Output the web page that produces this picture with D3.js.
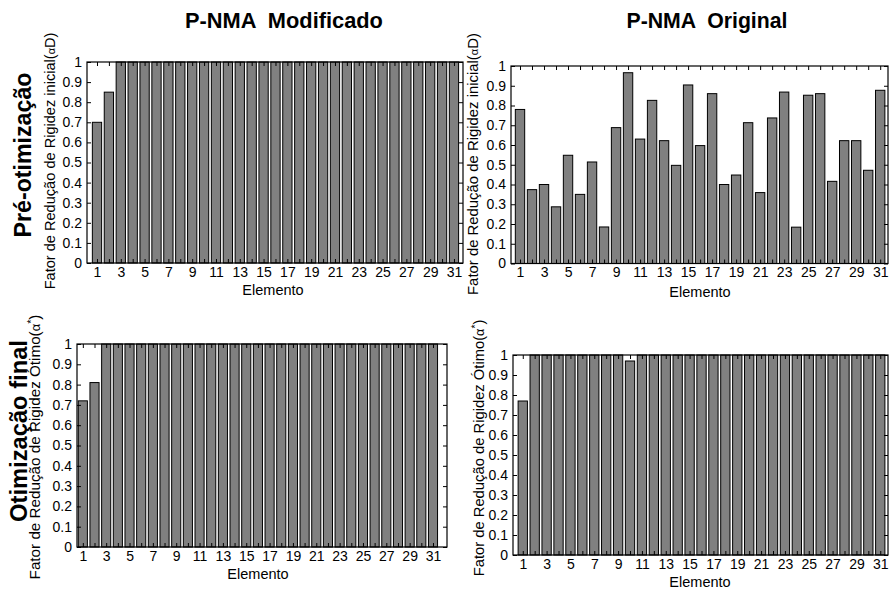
<!DOCTYPE html>
<html>
<head>
<meta charset="utf-8">
<script src="https://cdn.jsdelivr.net/npm/d3@7/dist/d3.min.js"></script>
<style>
  body { margin: 0; background: #fff; }
  svg text { font-family: "Liberation Sans", Arial, sans-serif; fill: #000; }
</style>
</head>
<body>
<svg id="chart" width="889" height="591"></svg>
<script>
// ── Data ───────────────────────────────────────────────────────────────────
const elementos = [1, 2, 3, 4, 5, 6, 7, 8, 9, 10, 11, 12, 13, 14, 15, 16,
  17, 18, 19, 20, 21, 22, 23, 24, 25, 26, 27, 28, 29, 30, 31];
const xLabels = [1, 3, 5, 7, 9, 11, 13, 15, 17, 19, 21, 23, 25, 27, 29, 31];
const yTicks = [0, 0.1, 0.2, 0.3, 0.4, 0.5, 0.6, 0.7, 0.8, 0.9, 1];

// P-NMA Modificado, pré-otimização
const modInicial = [0.70, 0.85, 1, 1, 1, 1, 1, 1, 1, 1, 1, 1, 1, 1, 1, 1,
  1, 1, 1, 1, 1, 1, 1, 1, 1, 1, 1, 1, 1, 1, 1];
// P-NMA Original, pré-otimização
const origInicial = [0.78, 0.374, 0.40, 0.287, 0.548, 0.35, 0.514, 0.185, 0.688, 0.966,
  0.63, 0.826, 0.622, 0.497, 0.904, 0.597, 0.86, 0.40, 0.448, 0.713,
  0.359, 0.737, 0.868, 0.184, 0.852, 0.86, 0.416, 0.622, 0.622, 0.472, 0.877];
// P-NMA Modificado, otimização final
const modOtimo = [0.72, 0.81, 1, 1, 1, 1, 1, 1, 1, 1, 1, 1, 1, 1, 1, 1,
  1, 1, 1, 1, 1, 1, 1, 1, 1, 1, 1, 1, 1, 1, 1];
// P-NMA Original, otimização final
const origOtimo = [0.77, 1, 1, 1, 1, 1, 1, 1, 1, 0.97, 1, 1, 1, 1, 1, 1,
  1, 1, 1, 1, 1, 1, 1, 1, 1, 1, 1, 1, 1, 1, 1];

// ── Layout ─────────────────────────────────────────────────────────────────
const panels = [
  { values: modInicial,  box: [87, 463, 62, 263],  xDom: [0.16, 31.76], kind: 'inicial',
    ylab: { x: 55, y: 161, len: 257 }, elem: { x: 273, y: 295 } },
  { values: origInicial, box: [511, 888, 66, 263.5], xDom: [0.25, 31.65], kind: 'inicial',
    ylab: { x: 478, y: 164, len: 262 }, elem: { x: 700, y: 297 } },
  { values: modOtimo,    box: [77, 447, 344, 547], xDom: [0.5, 32.2],  kind: 'otimo',
    ylab: { x: 40, y: 447, len: 265 }, elem: { x: 258, y: 579 } },
  { values: origOtimo,   box: [513, 888, 355, 555], xDom: [0.18, 31.65], kind: 'otimo',
    ylab: { x: 484, y: 448, len: 257 }, elem: { x: 700, y: 587 } },
];

const svg = d3.select('#chart');

// scale the font so the text spans a given length
function fit(text, len, size) {
  text.attr('font-size', size);
  const w = text.node().getComputedTextLength();
  text.attr('font-size', (size * len / w).toFixed(2));
  return text;
}

function drawPanel(p) {
  const [x0, x1, y0, y1] = p.box;
  const x = d3.scaleLinear().domain(p.xDom).range([x0, x1]);
  const y = d3.scaleLinear().domain([0, 1]).range([y1, y0]);
  const step = x(2) - x(1);
  const g = svg.append('g');

  g.selectAll('rect.bar')
    .data(elementos).join('rect')
    .attr('class', 'bar')
    .attr('x', d => x(d) - step * 0.39)
    .attr('width', step * 0.78)
    .attr('y', (d, i) => y(p.values[i]))
    .attr('height', (d, i) => y(0) - y(p.values[i]))
    .attr('fill', '#808080')
    .attr('stroke', '#000')
    .attr('stroke-width', 1);

  // MATLAB style: ticks inward on all four sides
  const axB = g.append('g').attr('transform', `translate(0,${y1})`)
    .call(d3.axisBottom(x).tickValues(elementos).tickSize(-4).tickPadding(4)
      .tickFormat(d => xLabels.includes(d) ? d : ''));
  const axT = g.append('g').attr('transform', `translate(0,${y0})`)
    .call(d3.axisTop(x).tickValues(elementos).tickSize(-4).tickFormat(''));
  const axL = g.append('g').attr('transform', `translate(${x0},0)`)
    .call(d3.axisLeft(y).tickValues(yTicks).tickSize(-4).tickPadding(5)
      .tickFormat(d => d === 0 || d === 1 ? d3.format('d')(d) : d3.format('.1f')(d)));
  const axR = g.append('g').attr('transform', `translate(${x1},0)`)
    .call(d3.axisRight(y).tickValues(yTicks).tickSize(-4).tickFormat(''));

  [axB, axT, axL, axR].forEach(a => {
    a.select('.domain').remove();
    a.selectAll('line').attr('stroke', '#000');
    a.selectAll('text').attr('font-size', 14).attr('font-family', null).attr('fill', '#111');
  });

  g.append('rect')
    .attr('x', x0).attr('y', y0).attr('width', x1 - x0).attr('height', y1 - y0)
    .attr('fill', 'none').attr('stroke', '#000').attr('stroke-width', 1.2);

  // y label
  const t = svg.append('text')
    .attr('transform', `translate(${p.ylab.x},${p.ylab.y}) rotate(-90)`)
    .attr('text-anchor', 'middle').attr('fill', '#111');
  if (p.kind === 'inicial') {
    t.append('tspan').text('Fator de Redução de Rigidez inicial(');
    t.append('tspan').attr('font-size', '0.75em').text('α');
    t.append('tspan').text('D)');
  } else {
    t.append('tspan').text('Fator de Redução de Rigidez Ótimo(');
    t.append('tspan').attr('font-size', '0.85em').text('α');
    t.append('tspan').attr('font-size', '0.7em').attr('dy', '-0.45em').text('*');
    t.append('tspan').attr('dy', '0.32em').text(')');
  }
  fit(t, p.ylab.len, 13);

  svg.append('text')
    .attr('x', p.elem.x).attr('y', p.elem.y)
    .attr('text-anchor', 'middle').attr('font-size', 14.5).attr('fill', '#111')
    .text('Elemento');
}

panels.forEach(drawPanel);

// column titles
fit(svg.append('text').attr('x', 284).attr('y', 28).attr('text-anchor', 'middle')
  .attr('font-weight', 'bold').attr('xml:space', 'preserve').text('P-NMA  Modificado'), 198, 18);
fit(svg.append('text').attr('x', 707).attr('y', 28).attr('text-anchor', 'middle')
  .attr('font-weight', 'bold').attr('xml:space', 'preserve').text('P-NMA  Original'), 161, 18);

// row titles
fit(svg.append('text').attr('transform', 'translate(31,155) rotate(-90)').attr('text-anchor', 'middle')
  .attr('font-weight', 'bold').text('Pré-otimização'), 165, 22);
fit(svg.append('text').attr('transform', 'translate(27,431) rotate(-90)').attr('text-anchor', 'middle')
  .attr('font-weight', 'bold').text('Otimização final'), 182, 22);
</script>
</body>
</html>
